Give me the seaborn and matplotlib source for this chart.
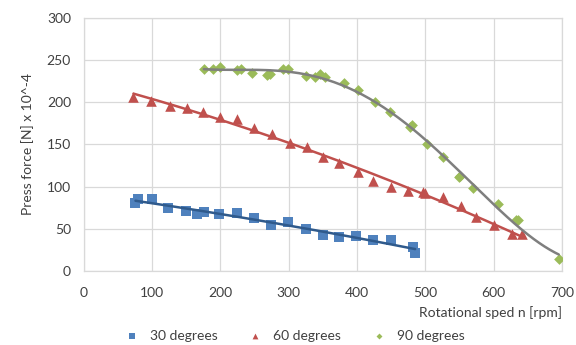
import numpy as np
import pandas as pd
import matplotlib
matplotlib.use("Agg")
import matplotlib.pyplot as plt
import seaborn as sns

# ---- data ----
x30 = [76, 79, 100, 123, 150, 166, 176, 198, 224, 250, 274, 299, 325, 350, 373, 399, 423, 449, 482, 485]
y30 = [81, 85, 85, 75, 71, 68, 70, 68, 69, 63, 54, 58, 50, 43, 40, 41, 36, 36, 28, 21]

x60 = [73, 98, 127, 151, 174, 200, 225, 250, 275, 302, 327, 350, 373, 401, 423, 449, 474, 496, 499, 525, 552, 574, 600, 626, 641]
y60 = [206, 201, 195, 193, 189, 182, 180, 170, 162, 152, 147, 135, 128, 117, 107, 100, 95, 93, 92, 87, 77, 64, 54, 44, 44]

x90 = [176, 189, 200, 225, 231, 247, 269, 272, 292, 299, 325, 338, 346, 353, 381, 401, 426, 448, 477, 480, 502, 526, 549, 551, 570, 606, 632, 636, 695]
y90 = [239, 240, 242, 238, 239, 235, 232, 233, 239, 239, 231, 230, 233, 230, 223, 215, 200, 189, 171, 173, 150, 135, 111, 113, 98, 79, 60, 60, 14]

labels = ["30 degrees", "60 degrees", "90 degrees"]
x_ticks = [0, 100, 200, 300, 400, 500, 600, 700]
y_ticks = [0, 50, 100, 150, 200, 250, 300]

sns.set_theme(style="white")
plt.rcParams["font.family"] = ["Lato", "DejaVu Sans"]

fig = plt.figure(figsize=(5.76, 3.45), dpi=100)
ax = fig.add_axes([0.145, 0.215, 0.831, 0.733])

series = [
    (x30, y30, labels[0], "#4F81BD", "s", 50, "#2F5A8C", 2),
    (x60, y60, labels[1], "#C0504D", "^", 58, "#C0504D", 2),
    (x90, y90, labels[2], "#9BBB59", "D", 30, "#7F7F7F", 4),
]

for xs, ys, lab, col, mk, sz, lcol, order in series:
    df = pd.DataFrame({"x": xs, "y": ys})
    sns.scatterplot(data=df, x="x", y="y", marker=mk, s=sz, color=col,
                    edgecolor=col, linewidth=0, ax=ax, label=lab, zorder=3)
    coef = np.polyfit(xs, ys, order)
    xf = np.linspace(min(xs), max(xs), 200)
    fit = pd.DataFrame({"x": xf, "y": np.polyval(coef, xf)})
    sns.lineplot(data=fit, x="x", y="y", color=lcol, linewidth=1.8, ax=ax,
                 legend=False, zorder=4)

ax.set_xlim(0, 700)
ax.set_ylim(0, 300)
ax.set_xticks(x_ticks)
ax.set_yticks(y_ticks)
ax.grid(True, color="#D9D9D9", linewidth=0.9)
ax.set_axisbelow(True)
for s in ax.spines.values():
    s.set_color("#D9D9D9")
    s.set_linewidth(0.9)
ax.tick_params(axis="x", labelsize=10, colors="#404040", length=0, pad=12)
ax.tick_params(axis="y", labelsize=10, colors="#404040", length=0, pad=9)
ax.set_xlabel("Rotational sped n [rpm]", fontsize=10, color="#404040", loc="right", labelpad=5)
ax.set_ylabel("Press force [N] x 10^-4", fontsize=10, color="#404040", labelpad=9)

handles, lbls = ax.get_legend_handles_labels()
leg = fig.legend(handles[:3], lbls[:3], loc="center", bbox_to_anchor=(0.512, 0.026),
                 ncol=3, frameon=False, fontsize=10, markerscale=0.55,
                 handlelength=1.0, handletextpad=0.8, columnspacing=2.2)
for t in leg.get_texts():
    t.set_color("#404040")
ax.get_legend().remove()

fig.savefig("out.png", dpi=100)
